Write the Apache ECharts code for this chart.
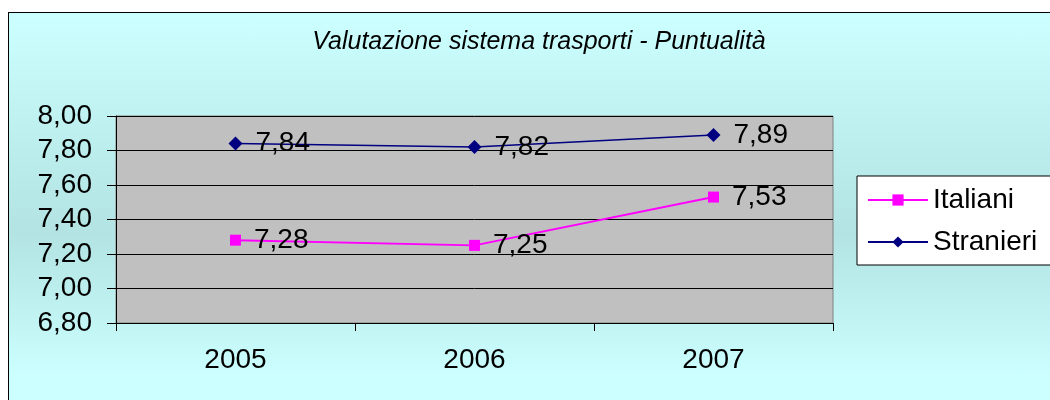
<!DOCTYPE html>
<html>
<head>
<meta charset="utf-8">
<script src="https://cdn.jsdelivr.net/npm/echarts@6/dist/echarts.min.js"></script>
<style>
  html, body { margin: 0; padding: 0; background: #fff; }
  #frame {
    position: absolute; left: 8px; top: 12px; width: 1060px; height: 400px;
    border: 1px solid #000; box-sizing: border-box;
    background: linear-gradient(to bottom, #ccffff 0%, #b3e3e3 55%, #ccffff 92%);
  }
  #main { position: absolute; left: 0; top: 0; width: 1050px; height: 400px; }
</style>
</head>
<body>
<div id="frame"></div>
<div id="main"></div>
<script>
var anni = ['2005', '2006', '2007'];
var italiani = [7.28, 7.25, 7.53];
var stranieri = [7.84, 7.82, 7.89];

function virgola(v) {
  return Number(v).toFixed(2).replace('.', ',');
}

var myChart = echarts.init(document.getElementById('main'));

var etichetta = {
  show: true,
  position: 'right',
  distance: 13,
  fontSize: 28,
  color: '#000',
  fontFamily: 'Liberation Sans',
  formatter: function (p) { return virgola(p.value); }
};

var option = {
  backgroundColor: 'transparent',
  animation: false,
  textStyle: { fontFamily: 'Liberation Sans' },
  title: {
    text: 'Valutazione sistema trasporti - Puntualità',
    left: 534,
    textAlign: 'center',
    top: 25,
    textStyle: { fontSize: 25, fontStyle: 'italic', fontWeight: 'normal', color: '#000', fontFamily: 'Liberation Sans' }
  },
  legend: {
    orient: 'vertical',
    left: 857,
    top: 176,
    padding: [9, 30, 8, 10],
    itemWidth: 60,
    itemHeight: 14,
    itemGap: 12,
    backgroundColor: '#fff',
    borderColor: '#000',
    borderWidth: 1,
    borderRadius: 0,
    textStyle: { fontSize: 28, color: '#000', lineHeight: 30, fontFamily: 'Liberation Sans' },
    data: ['Italiani', 'Stranieri']
  },
  grid: {
    left: 116, top: 116, width: 717, height: 207,
    show: true, backgroundColor: '#c0c0c0', borderColor: '#808080', borderWidth: 1
  },
  xAxis: {
    type: 'category',
    data: anni,
    boundaryGap: true,
    axisLine: { lineStyle: { color: '#000', width: 1 } },
    axisTick: { show: true, length: 8, lineStyle: { color: '#000' } },
    axisLabel: { fontSize: 28, color: '#000', margin: 23 }
  },
  yAxis: {
    type: 'value',
    min: 6.8, max: 8.0, interval: 0.2,
    axisLine: { show: true, lineStyle: { color: '#000', width: 1 } },
    axisTick: { show: true, length: 9, lineStyle: { color: '#000' } },
    axisLabel: { fontSize: 28, color: '#000', margin: 24, formatter: virgola },
    splitLine: { lineStyle: { color: '#000', width: 1 } }
  },
  series: [
    {
      name: 'Italiani',
      type: 'line',
      data: italiani,
      symbol: 'rect',
      symbolSize: 11,
      itemStyle: { color: '#ff00ff' },
      lineStyle: { color: '#ff00ff', width: 2 },
      label: etichetta
    },
    {
      name: 'Stranieri',
      type: 'line',
      data: stranieri,
      symbol: 'diamond',
      symbolSize: 14,
      itemStyle: { color: '#000080' },
      lineStyle: { color: '#000080', width: 1.5 },
      label: etichetta
    }
  ]
};

myChart.setOption(option);
</script>
</body>
</html>
